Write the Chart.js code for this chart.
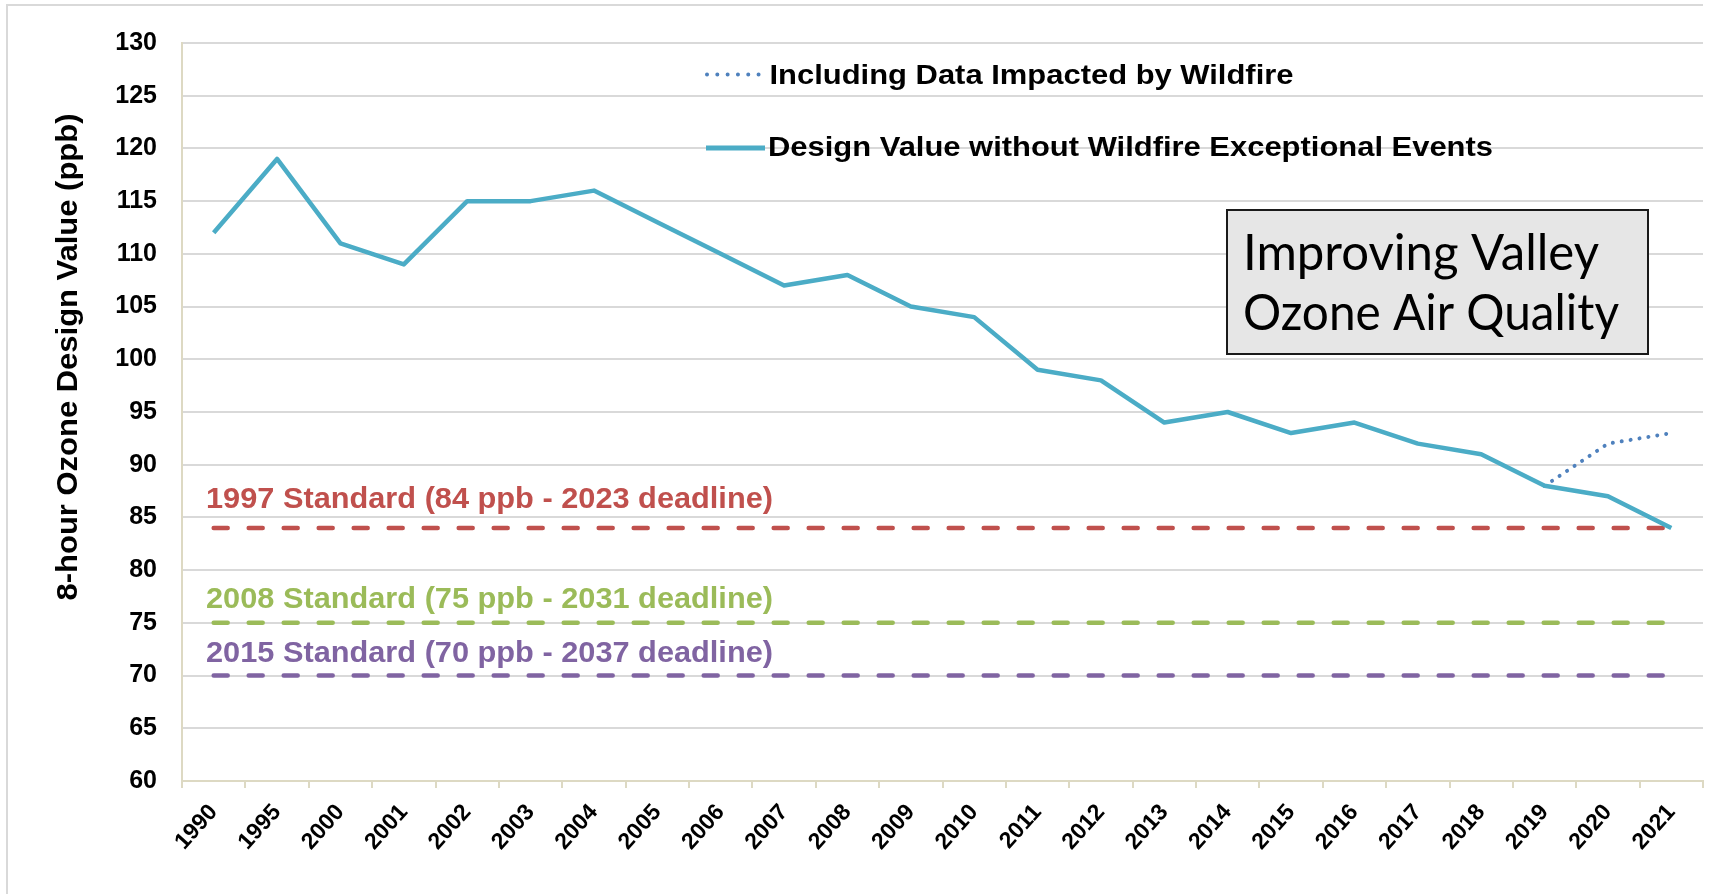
<!DOCTYPE html>
<html>
<head>
<meta charset="utf-8">
<script src="https://cdn.jsdelivr.net/npm/chart.js@4.4.0/dist/chart.umd.min.js"></script>
<style>
html,body{margin:0;padding:0;background:#fff;}
#wrap{width:1718px;height:894px;position:relative;}
</style>
</head>
<body>
<div id="wrap"><canvas id="c" width="1718" height="894"></canvas></div>
<script>
// ---------- data ----------
const categories = ['1990','1995','2000','2001','2002','2003','2004','2005','2006','2007','2008','2009','2010','2011','2012','2013','2014','2015','2016','2017','2018','2019','2020','2021'];
const designValues = [112,119,111,109,115,115,116,113,110,107,108,105,104,99,98,94,95,93,94,92,91,88,87,84];
const wildfireValues = [null,null,null,null,null,null,null,null,null,null,null,null,null,null,null,null,null,null,null,null,null,88,92,93];
const yTicks = [60,65,70,75,80,85,90,95,100,105,110,115,120,125,130];
const standardLevels = [84,75,70];
const standardLabels = ['1997 Standard (84 ppb - 2023 deadline)','2008 Standard (75 ppb - 2031 deadline)','2015 Standard (70 ppb - 2037 deadline)'];
const seriesLabels = ['Including Data Impacted by Wildfire','Design Value without Wildfire Exceptional Events'];
const yAxisTitle = '8-hour Ozone Design Value (ppb)';
const noteLines = ['Improving Valley','Ozone Air Quality'];

// ---------- style ----------
const FONT = '"Liberation Sans", Arial, Helvetica, sans-serif';
const BLUE = '#4BACC6', DOT = '#4F81BD';
const STD_COLORS = ['#C0504D','#9BBB59','#8064A2'];
const GRID = '#D9D9D9', AXIS = '#DDD9C3';

function fitText(ctx, text, x, y, width, font) {
  ctx.font = font;
  const w = ctx.measureText(text).width;
  ctx.save();
  ctx.translate(x, y);
  ctx.scale(width / w, 1);
  ctx.fillText(text, 0, 0);
  ctx.restore();
}

const decor = {
  id: 'decor',
  beforeDraw(chart) {
    const ctx = chart.ctx;
    ctx.save();
    ctx.strokeStyle = GRID;
    ctx.lineWidth = 2;
    ctx.beginPath();
    ctx.moveTo(7, 894);
    ctx.lineTo(7, 5);
    ctx.lineTo(1703, 5);
    ctx.stroke();
    ctx.restore();
  },
  afterDraw(chart) {
    const ctx = chart.ctx;
    const ys = chart.scales.y;
    ctx.save();
    ctx.textAlign = 'left';
    ctx.textBaseline = 'alphabetic';

    // standard labels
    const offs = [-19.6, -14.5, -13.6];
    standardLabels.forEach((t, i) => {
      ctx.fillStyle = STD_COLORS[i];
      fitText(ctx, t, 206, ys.getPixelForValue(standardLevels[i]) + offs[i], 567, 'bold 30px ' + FONT);
    });

    // legend
    ctx.lineCap = 'round';
    ctx.strokeStyle = DOT;
    ctx.lineWidth = 4;
    ctx.setLineDash([0.01, 10.3]);
    ctx.beginPath(); ctx.moveTo(707, 74.5); ctx.lineTo(759, 74.5); ctx.stroke();
    ctx.setLineDash([]);
    ctx.lineCap = 'butt';
    ctx.strokeStyle = BLUE;
    ctx.lineWidth = 5;
    ctx.beginPath(); ctx.moveTo(706, 148); ctx.lineTo(765, 148); ctx.stroke();
    ctx.fillStyle = '#000';
    fitText(ctx, seriesLabels[0], 769.5, 84.3, 524, 'bold 28px ' + FONT);
    fitText(ctx, seriesLabels[1], 768, 156.3, 725, 'bold 28px ' + FONT);

    // note box
    ctx.fillStyle = '#E6E6E6';
    ctx.fillRect(1227, 210, 421, 144);
    ctx.strokeStyle = '#1A1A1A';
    ctx.lineWidth = 2;
    ctx.strokeRect(1227, 210, 421, 144);
    ctx.fillStyle = '#000';
    fitText(ctx, noteLines[0], 1243, 269.5, 356, '50px Lato, "Open Sans", sans-serif');
    fitText(ctx, noteLines[1], 1243, 330, 376, '50px Lato, "Open Sans", sans-serif');

    // y axis title
    ctx.save();
    ctx.translate(77, 357);
    ctx.rotate(-Math.PI / 2);
    ctx.textAlign = 'center';
    ctx.font = 'bold 30px ' + FONT;
    const w = ctx.measureText(yAxisTitle).width;
    ctx.scale(487 / w, 1);
    ctx.fillStyle = '#000';
    ctx.fillText(yAxisTitle, 0, 0);
    ctx.restore();

    ctx.restore();
  }
};

const datasets = [
  { label: seriesLabels[1], data: designValues, borderColor: BLUE, borderWidth: 4.5,
    pointRadius: 0, tension: 0, fill: false, borderJoinStyle: 'round' },
  { label: seriesLabels[0], data: wildfireValues, borderColor: DOT, borderWidth: 4,
    borderDash: [0.01, 9], borderCapStyle: 'round', pointRadius: 0, tension: 0, fill: false, spanGaps: false }
].concat(standardLevels.map((lv, i) => ({
  label: standardLabels[i], data: categories.map(() => lv), borderColor: STD_COLORS[i],
  borderWidth: 4.5, borderDash: [14, 21], borderCapStyle: 'round', pointRadius: 0, fill: false
})));

new Chart(document.getElementById('c'), {
  type: 'line',
  data: { labels: categories, datasets },
  options: {
    responsive: false,
    animation: false,
    devicePixelRatio: 1,
    layout: { padding: { top: 43, right: 15, left: 0, bottom: 0 } },
    plugins: { legend: { display: false }, tooltip: { enabled: false } },
    scales: {
      x: {
        type: 'category',
        offset: true,
        grid: { display: true, drawOnChartArea: false, drawTicks: true, tickLength: 7, color: AXIS, lineWidth: 2, offset: true },
        border: { display: true, color: AXIS, width: 2 },
        ticks: { autoSkip: false, maxRotation: 48, minRotation: 48, color: '#000', padding: 11,
                 font: { family: FONT, size: 23, weight: 'bold' } },
        afterFit: s => { s.height = 113; }
      },
      y: {
        min: 60, max: 130,
        afterBuildTicks: s => { s.ticks = yTicks.map(v => ({ value: v })); },
        grid: { color: c => (c.tick && c.tick.value === 60) ? AXIS : GRID, lineWidth: 2, drawTicks: false },
        border: { display: true, color: AXIS, width: 2 },
        ticks: { color: '#000', padding: 25, font: { family: FONT, size: 25, weight: 'bold' } },
        afterFit: s => { s.width = 182; }
      }
    }
  },
  plugins: [decor]
});
</script>
</body>
</html>
